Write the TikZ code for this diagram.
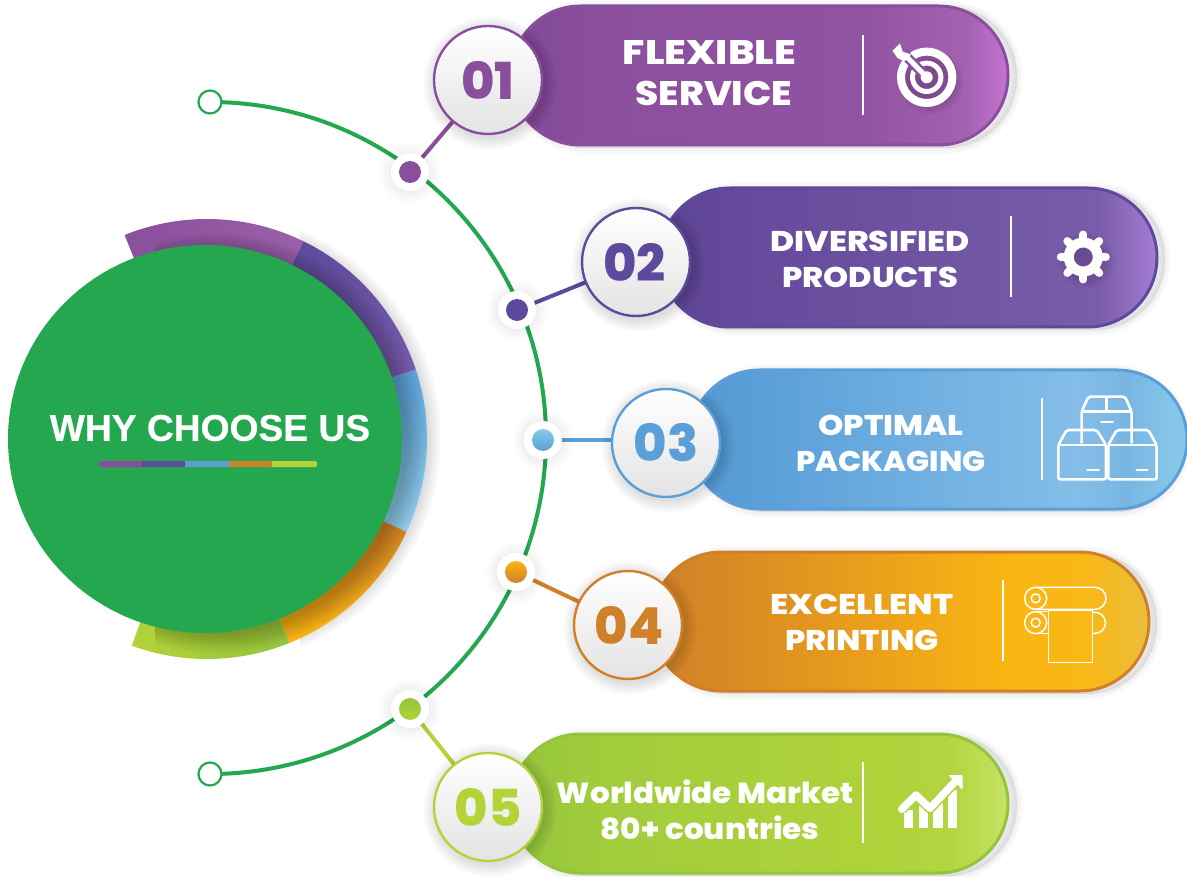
\documentclass[tikz,border=0pt]{standalone}
\usepackage{fontspec}
\usetikzlibrary{shapes.geometric,shapes.misc}
\setmainfont{Liberation Sans}
\newfontfamily\pop[BoldFont={Poppins ExtraBold}]{Poppins}
\newfontfamily\ttl[FakeBold=0.5]{Liberation Sans Bold}
\definecolor{cA}{HTML}{8A4F9C}
\definecolor{cB}{HTML}{5E4A9C}
\definecolor{cC}{HTML}{5A9FD8}
\definecolor{cD}{HTML}{D08028}
\definecolor{cE}{HTML}{B3D339}
\definecolor{mgreen}{HTML}{24A74F}
\pgfdeclarelayer{back}
\pgfsetlayers{back,main}
\definecolor{aa0}{HTML}{7E4896}\definecolor{aa1}{HTML}{8A4F9D}\definecolor{aa2}{HTML}{9053A1}\definecolor{aa3}{HTML}{A562B2}\definecolor{aa4}{HTML}{C474D0}
\definecolor{ba0}{HTML}{5C4494}\definecolor{ba1}{HTML}{66499B}\definecolor{ba2}{HTML}{7258A5}\definecolor{ba3}{HTML}{7A5CAA}\definecolor{ba4}{HTML}{A57CD2}
\definecolor{ca0}{HTML}{5498D2}\definecolor{ca1}{HTML}{5CA0D9}\definecolor{ca2}{HTML}{84BEE8}\definecolor{ca3}{HTML}{78B6E2}\definecolor{ca4}{HTML}{88CAEA}
\definecolor{da0}{HTML}{D08028}\definecolor{da1}{HTML}{D98A24}\definecolor{da2}{HTML}{FAB512}\definecolor{da3}{HTML}{F8B818}\definecolor{da4}{HTML}{E9BE3C}
\definecolor{ea0}{HTML}{94C43C}\definecolor{ea1}{HTML}{A0CC3C}\definecolor{ea2}{HTML}{AFD23A}\definecolor{ea3}{HTML}{B2D440}\definecolor{ea4}{HTML}{C6E264}
\definecolor{ringA}{HTML}{9A60A8}
\pgfdeclarehorizontalshading{pA}{100bp}{color(0bp)=(aa0);color(25bp)=(aa0);color(33bp)=(aa1);color(60bp)=(aa2);color(71bp)=(aa3);color(75bp)=(aa4);color(100bp)=(aa4)}
\pgfdeclarehorizontalshading{pB}{100bp}{color(0bp)=(ba0);color(25bp)=(ba0);color(33bp)=(ba1);color(60bp)=(ba2);color(69bp)=(ba3);color(75bp)=(ba4);color(100bp)=(ba4)}
\pgfdeclarehorizontalshading{pC}{100bp}{color(0bp)=(ca0);color(25bp)=(ca0);color(33bp)=(ca1);color(64bp)=(ca2);color(69bp)=(ca3);color(75bp)=(ca4);color(100bp)=(ca4)}
\pgfdeclarehorizontalshading{pD}{100bp}{color(0bp)=(da0);color(25bp)=(da0);color(33bp)=(da1);color(61bp)=(da2);color(69bp)=(da3);color(75bp)=(da4);color(100bp)=(da4)}
\pgfdeclarehorizontalshading{pE}{100bp}{color(0bp)=(ea0);color(25bp)=(ea0);color(33bp)=(ea1);color(60bp)=(ea2);color(69bp)=(ea3);color(75bp)=(ea4);color(100bp)=(ea4)}
\tikzset{
  pillbox/.style={rounded rectangle,minimum width=497pt,minimum height=139pt,inner sep=0pt,outer sep=0pt,line width=3pt},
  numdisc/.style={circle,minimum size=108pt,inner sep=0pt,outer sep=0pt,line width=2.4pt,top color=white,bottom color=black!11},
  dotwhite/.style={circle,fill=white,minimum size=38pt,inner sep=0pt,outer sep=0pt},
  dotcol/.style={circle,minimum size=22pt,inner sep=0pt,outer sep=0pt},
  endring/.style={circle,fill=white,draw=mgreen,line width=2.2pt,minimum size=23pt,inner sep=0pt,outer sep=0pt},
  link/.style={line width=4pt},
  sepline/.style={white,line width=2.2pt},
  pilltext/.style={text=white,inner sep=0pt,font=\pop\bfseries\fontsize{#1}{#1}\selectfont},
  numtext/.style={inner sep=0pt,font=\pop\bfseries\fontsize{51}{51}\selectfont},
  iconline/.style={white,line width=2.6pt,line join=round,rounded corners=2pt},
  printline/.style={white,line width=1.5pt},
  zoomed/.style={x=0.33333pt,y=-0.33333pt},
}
\newcommand\softdisc[4]{\foreach \k in {1,...,8}{\fill[black,opacity=#4] (#1,#2) circle[radius={(#3+\k*1.6)*1pt}];}}
\newcommand\softpill[4]{%
  \fill[black!8,rounded corners=70pt] (#1+4,#2-1) rectangle (#3+8,#4-2);
  \foreach \k in {1,...,5}{\draw[black,opacity=.01,line width=\k*2.4pt,rounded corners=70pt] (#1+4,#2-1) rectangle (#3+8,#4-2);}}
\newcommand\ringseg[3]{\shade[#3] ([shift={(207,-439)}]#1:220pt) arc[start angle=#1,end angle=#2,radius=220pt] -- ([shift={(207,-439)}]#2:180pt) arc[start angle=#2,end angle=#1,radius=180pt] -- cycle;}
\begin{document}
\begin{tikzpicture}[x=1pt,y=1pt]
\useasboundingbox (0,0) rectangle (1187,-877);
% ---------- centre
\begin{pgfonlayer}{back}
\fill[white] (0,0) rectangle (1187,-877);
\begin{scope}
\clip (300,-200) rectangle (460,-680);
\foreach \k in {1,...,9}{\fill[black,opacity=.016] (216,-439) circle[radius={(211+\k*1.6)*1pt}];}
\end{scope}
\ringseg{112}{64}{left color=aa1,right color=ringA}
\ringseg{64}{18.4}{top color=cB,bottom color=ba3}
\ringseg{18.4}{-25}{top color=cC,bottom color=ca4!90!white}
\ringseg{-25}{-68}{top color=cD,bottom color=da2}
\ringseg{-68}{-110}{left color=cE,right color=ea0}
\begin{scope}
\clip (155,-200) rectangle (460,-680);
\foreach \k in {1,...,10}{\fill[black,opacity=.022] (215,-443) circle[radius={(190+\k*2)*1pt}];}
\end{scope}
\node[ellipse,fill=mgreen,minimum width=394pt,minimum height=388pt,inner sep=0pt] (hub) at (205,-439) {};
\node[text=white,inner sep=0pt,font=\ttl\fontsize{37.2}{37.2}\selectfont] (title) at (210,-428) {WHY CHOOSE US};
\fill[cA,rounded corners=2pt] (99,-461) rectangle (145,-467);
\fill[cE,rounded corners=2pt] (265,-461) rectangle (317,-467);
\fill[cB] (142,-461) rectangle (185,-467);
\fill[cC] (185,-461) rectangle (229,-467);
\fill[cD] (229,-461) rectangle (272,-467);
\end{pgfonlayer}
% ---------- nodes on the arc
\node[endring] (endA) at (210,-102) {};
\node[endring] (endB) at (210,-774) {};
\begin{pgfonlayer}{back}
\draw[mgreen,line width=4pt] (endA.center) arc[start angle=90,end angle=-90,radius=336pt];
\end{pgfonlayer}
\foreach \nm/\px/\py in {a/410/172,b/517/310,c/543/440,d/516/572,e/410/709}{
  \softdisc{\px}{-\py-1}{18}{.006}
  \node[dotwhite] (w\nm) at (\px,-\py) {};
}
\node[dotcol,fill=cA] (da) at (wa) {};
\node[dotcol,fill=cB] (db) at (wb) {};
\node[dotcol,top color=ca4,bottom color=cC] (dc) at (wc) {};
\node[dotcol,top color=da2,bottom color=cD] (dd) at (wd) {};
\node[dotcol,top color=ea0,bottom color=cE] (de) at (we) {};
% ---------- pills
\softpill{510}{-5}{1009}{-146}
\node[pillbox,shading=pA,draw=cA] (pa) at (759.5,-75.5) {};
\softpill{660}{-187}{1157}{-328}
\node[pillbox,shading=pB,draw=cB] (pb) at (908.5,-257.5) {};
\softpill{690}{-369}{1178}{-510}
\node[pillbox,shading=pC,draw=cC] (pc) at (938.5,-439.5) {};
\softpill{652}{-551}{1149}{-692}
\node[pillbox,shading=pD,draw=cD] (pd) at (900.5,-621.5) {};
\softpill{510}{-733}{1009}{-874}
\node[pillbox,shading=pE,draw=ea0] (pe) at (759.5,-803.5) {};
% ---------- number discs
\softdisc{490}{-83}{54}{.016}
\node[numdisc,draw=cA] (na) at (488,-80) {};
\softdisc{638}{-265}{54}{.016}
\node[numdisc,draw=cB] (nb) at (636,-262) {};
\softdisc{668}{-446}{54}{.016}
\node[numdisc,draw=cC] (nc) at (666,-443) {};
\softdisc{630}{-628}{54}{.016}
\node[numdisc,draw=cD] (nd) at (628,-625) {};
\softdisc{490}{-810}{54}{.016}
\node[numdisc,draw=cE] (ne) at (488,-807) {};
\node[numtext,text=cA] (la) at (na) {01};
\node[numtext,text=cB,xshift=-1.5pt] (lb) at (nb) {02};
\node[numtext,text=cC] (lc) at (nc) {03};
\node[numtext,text=cD,xshift=1pt] (ld) at (nd) {04};
\node[numtext,text=cE] (le) at (ne) {05};
% ---------- connectors
\begin{pgfonlayer}{back}
\draw[link,cA] (wa.center) -- (na.center);
\draw[link,cB] (wb.center) -- (nb.center);
\draw[link,cC] (wc.center) -- (nc.center |- wc.center);
\draw[link,cD] (wd.center) -- (nd.center);
\draw[link,cE] (we.center) -- (ne.center);
\end{pgfonlayer}
% ---------- labels
\node[pilltext=34] (ta1) at (709.5,-53) {\scalebox{1.17}[1]{FLEXIBLE}};
\node[pilltext=34] (ta2) at (714,-93) {\scalebox{1.1}[1]{SERVICE}};
\node[pilltext=28.5] (tb1) at (870,-241) {\scalebox{1.15}[1]{DIVERSIFIED}};
\node[pilltext=28.5] (tb2) at (870,-277) {\scalebox{1.12}[1]{PRODUCTS}};
\node[pilltext=28.5] (tc1) at (891,-425) {\scalebox{1.13}[1]{OPTIMAL}};
\node[pilltext=28.5] (tc2) at (891,-461) {\scalebox{1.07}[1]{PACKAGING}};
\node[pilltext=28.5] (td1) at (862,-604) {\scalebox{1.17}[1]{EXCELLENT}};
\node[pilltext=28.5] (td2) at (862,-640) {\scalebox{1.12}[1]{PRINTING}};
\node[pilltext=29] (te1) at (705.5,-792) {\scalebox{1.07}[1]{Worldwide Market}};
\node[pilltext=29] (te2) at (710,-828) {\scalebox{1.07}[1]{80+ countries}};
% ---------- separators
\draw[sepline] (863,-35) -- (863,-115);
\draw[sepline] (1011,-216) -- (1011,-297);
\draw[sepline] (1042,-398) -- (1042,-480);
\draw[sepline] (1003,-580) -- (1003,-661);
\draw[sepline] (863,-762) -- (863,-843);
% ---------- target icon
\softdisc{931}{-82}{20}{.022}
\draw[white,line width=8pt] (926.7,-77.3) circle[radius=25.7pt];
\draw[white,line width=5pt] (926.7,-77.3) circle[radius=14.2pt];
\draw[aa2,line width=10pt] (926.7,-77.3) -- (904,-54);
\fill[white] (926.7,-77.3) circle[radius=6pt];
\draw[white,line width=5pt] (926.7,-77.3) -- (905,-55);
\fill[white] (900,-43.5) -- (902.7,-51.7) -- (911,-54.5) -- (904.3,-61.5) -- (897.5,-58) -- (892.5,-50.7) -- cycle;
% ---------- gear icon
\softdisc{1087}{-261}{16}{.016}
\draw[white,line width=10pt] (1083.3,-257) circle[radius=14.5pt];
\foreach \a in {0,45,...,315}{\draw[white,line width=8pt,line cap=round] ([shift={(1083.3,-257)}]\a:17pt) -- ([shift={(1083.3,-257)}]\a:22.5pt);}
% ---------- boxes icon
\begin{scope}[shift={(1030pt,-380pt)},zoomed]
\draw[iconline] (155,190) -- (155,95) -- (175,50) -- (285,50) -- (305,95) -- (305,190);
\draw[iconline] (155,95) -- (305,95);
\draw[iconline] (230,50) -- (230,95);
\draw[iconline,line cap=round] (214,126) -- (248,126);
\draw[iconline] (85,298) -- (85,195) -- (110,150) -- (200,150) -- (228,195) -- (228,298) -- cycle;
\draw[iconline] (85,195) -- (228,195);
\draw[iconline] (235,298) -- (235,195) -- (260,150) -- (355,150) -- (380,195) -- (380,298) -- cycle;
\draw[iconline] (235,195) -- (380,195);
\draw[iconline,line cap=round] (172,270) -- (206,270);
\draw[iconline,line cap=round] (320,270) -- (352,270);
\end{scope}
% ---------- printer icon
\begin{scope}[shift={(1000pt,-570pt)},zoomed]
\draw[printline] (107,52) -- (285,52) arc[start angle=90,end angle=-90,radius=11pt] -- (107,118);
\draw[printline] (278,127) -- (285,127) arc[start angle=90,end angle=-90,radius=10.5pt] -- (278,190);
\draw[printline] (107,125) -- (145,125);
\draw[printline] (107,190) -- (145,190);
\draw[printline] (107,85) circle[radius=11pt];
\draw[printline] (107,85) circle[radius=4.5pt];
\draw[printline] (107,158) circle[radius=11pt];
\draw[printline] (107,158) circle[radius=4.5pt];
\draw[printline] (145,120) rectangle (278,278);
\end{scope}
% ---------- chart icon
\begin{scope}[shift={(880pt,-760pt)},zoomed]
\fill[white] (73,203) rectangle (100,150);
\fill[white] (116,203) rectangle (145,130);
\fill[white] (160,203) rectangle (190,130);
\fill[white] (205,203) rectangle (232,90);
\draw[ea2,line width=10.5pt,line join=round] (65,148) -- (108,105) -- (150,145) -- (225,65);
\draw[white,line width=7.5pt,line join=round,line cap=round] (65,148) -- (108,105) -- (150,145) -- (225,65);
\fill[white,rounded corners=1pt] (205,45) -- (248,45) -- (248,90) -- cycle;
\end{scope}
\end{tikzpicture}
\end{document}
